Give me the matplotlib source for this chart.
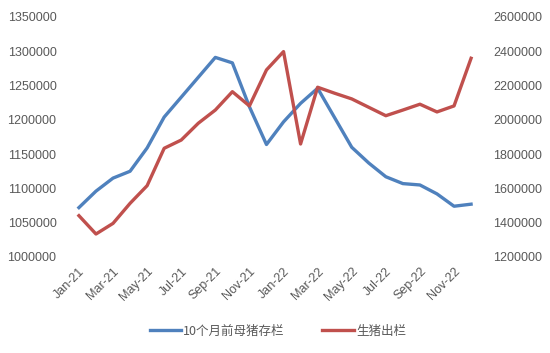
import matplotlib
matplotlib.use("Agg")
import matplotlib.pyplot as plt

plt.rcParams['font.family'] = ['Liberation Sans', 'Noto Sans CJK SC', 'DejaVu Sans']

months = ["Jan-21", "Feb-21", "Mar-21", "Apr-21", "May-21", "Jun-21", "Jul-21", "Aug-21",
          "Sep-21", "Oct-21", "Nov-21", "Dec-21", "Jan-22", "Feb-22", "Mar-22", "Apr-22",
          "May-22", "Jun-22", "Jul-22", "Aug-22", "Sep-22", "Oct-22", "Nov-22", "Dec-22"]

sows_10m_ago = [1072000, 1096000, 1115000, 1125000, 1159000, 1204000, 1233000, 1262000,
                1291000, 1283000, 1219000, 1164000, 1197000, 1224000, 1246000, 1203000,
                1160000, 1137000, 1117000, 1107000, 1105000, 1092000, 1074000, 1077000]

hogs_out = [1441000, 1334000, 1396000, 1513000, 1616000, 1834000, 1882000, 1980000,
            2057000, 2164000, 2081000, 2291000, 2398000, 1859000, 2190000, 2155000,
            2122000, 2073000, 2024000, 2057000, 2091000, 2046000, 2081000, 2359000]

left_ticks = [1000000, 1050000, 1100000, 1150000, 1200000, 1250000, 1300000, 1350000]
right_ticks = [1200000, 1400000, 1600000, 1800000, 2000000, 2200000, 2400000, 2600000]

label_blue = "10个月前母猪存栏"
label_red = "生猪出栏"

blue = "#4F81BD"
red = "#C0504D"
gray = "#595959"

fig = plt.figure(figsize=(5.5, 3.53), dpi=100)
ax = fig.add_axes([0.128, 0.272, 0.744, 0.680])
ax2 = ax.twinx()

x = list(range(len(months)))
l1, = ax.plot(x, sows_10m_ago, color=blue, lw=2.4, solid_joinstyle='round', label=label_blue)
l2, = ax2.plot(x, hogs_out, color=red, lw=2.4, solid_joinstyle='round', label=label_red)

ax.set_xlim(-0.5, len(months) - 0.5)
ax.set_ylim(left_ticks[0], left_ticks[-1])
ax2.set_ylim(right_ticks[0], right_ticks[-1])
ax.set_yticks(left_ticks)
ax.set_yticklabels([str(v) for v in left_ticks])
ax2.set_yticks(right_ticks)
ax2.set_yticklabels([str(v) for v in right_ticks])

ax.set_xticks(x[::2])
ax.set_xticklabels(months[::2], rotation=45, ha='right', rotation_mode='anchor')

for a in (ax, ax2):
    for s in a.spines.values():
        s.set_visible(False)
    a.tick_params(length=0, colors=gray, labelsize=9)
ax.tick_params(axis='y', pad=10)
ax2.tick_params(axis='y', pad=10)
ax.tick_params(axis='x', pad=6)

leg = fig.legend(handles=[l1, l2], loc='center', bbox_to_anchor=(0.505, 0.062), ncol=2,
                 frameon=False, handlelength=2.5, handletextpad=0.2, columnspacing=3.0,
                 prop={'family': ['Noto Sans CJK SC', 'DejaVu Sans'], 'size': 9})
for t in leg.get_texts():
    t.set_color(gray)

fig.savefig("out.png", dpi=100)
